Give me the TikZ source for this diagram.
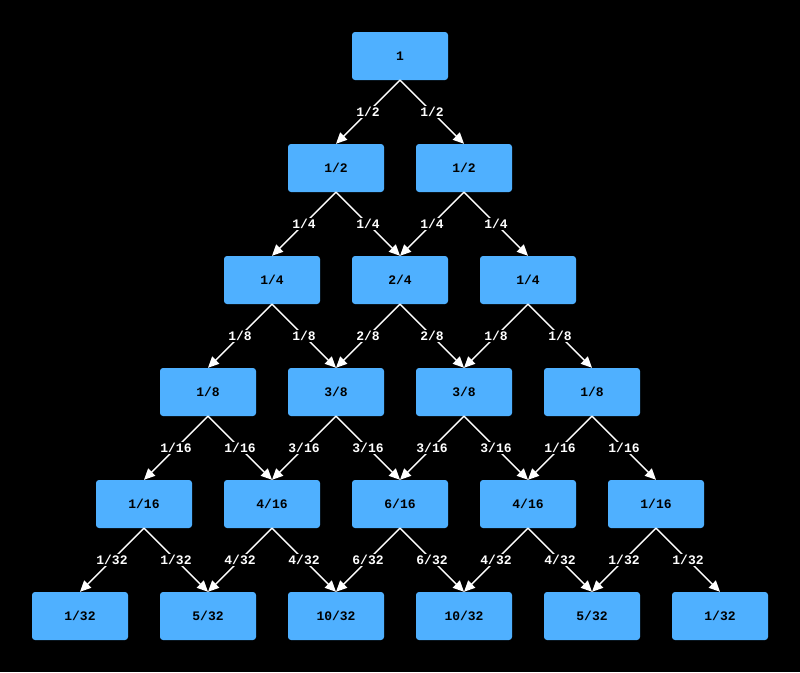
\documentclass[tikz,border=0pt]{standalone}
\usepackage{fontspec}
\setmonofont{Liberation Mono}
\usetikzlibrary{arrows.meta}
\definecolor{boxblue}{HTML}{4FB0FF}
\begin{document}
\begin{tikzpicture}[x=1pt,y=-1pt,
  nbox/.style={draw=none,fill=boxblue,rounded corners=3pt,minimum width=96pt,minimum height=48pt,inner sep=0pt,font=\ttfamily\bfseries\fontsize{13}{15}\selectfont,text=black},
  edge/.style={draw=white,line width=1.4pt,-{Triangle[width=10pt,length=11pt]}},
  elab/.style={fill=black,text=white,inner sep=1.5pt,font=\ttfamily\bfseries\fontsize{13}{15}\selectfont}]
\fill[black] (0,0) rectangle (800,672);
\useasboundingbox (0,0) rectangle (800,672);
% row 1
\node[nbox] (a1) at (400,56) {1};
% row 2
\node[nbox] (b1) at (336,168) {1/2};
\node[nbox] (b2) at (464,168) {1/2};
% row 3
\node[nbox] (c1) at (272,280) {1/4};
\node[nbox] (c2) at (400,280) {2/4};
\node[nbox] (c3) at (528,280) {1/4};
% row 4
\node[nbox] (d1) at (208,392) {1/8};
\node[nbox] (d2) at (336,392) {3/8};
\node[nbox] (d3) at (464,392) {3/8};
\node[nbox] (d4) at (592,392) {1/8};
% row 5
\node[nbox] (e1) at (144,504) {1/16};
\node[nbox] (e2) at (272,504) {4/16};
\node[nbox] (e3) at (400,504) {6/16};
\node[nbox] (e4) at (528,504) {4/16};
\node[nbox] (e5) at (656,504) {1/16};
% row 6
\node[nbox] (f1) at (80,616) {1/32};
\node[nbox] (f2) at (208,616) {5/32};
\node[nbox] (f3) at (336,616) {10/32};
\node[nbox] (f4) at (464,616) {10/32};
\node[nbox] (f5) at (592,616) {5/32};
\node[nbox] (f6) at (720,616) {1/32};
% edges
\foreach \p/\c/\l in {a1/b1/1\slash 2, a1/b2/1\slash 2,
  b1/c1/1\slash 4, b1/c2/1\slash 4, b2/c2/1\slash 4, b2/c3/1\slash 4,
  c1/d1/1\slash 8, c1/d2/1\slash 8, c2/d2/2\slash 8, c2/d3/2\slash 8, c3/d3/1\slash 8, c3/d4/1\slash 8,
  d1/e1/1\slash 16, d1/e2/1\slash 16, d2/e2/3\slash 16, d2/e3/3\slash 16, d3/e3/3\slash 16, d3/e4/3\slash 16, d4/e4/1\slash 16, d4/e5/1\slash 16,
  e1/f1/1\slash 32, e1/f2/1\slash 32, e2/f2/4\slash 32, e2/f3/4\slash 32, e3/f3/6\slash 32, e3/f4/6\slash 32, e4/f4/4\slash 32, e4/f5/4\slash 32, e5/f5/1\slash 32, e5/f6/1\slash 32}
  {\draw[edge] (\p.south) -- node[elab] {\l} (\c.north);}
\end{tikzpicture}
\end{document}
